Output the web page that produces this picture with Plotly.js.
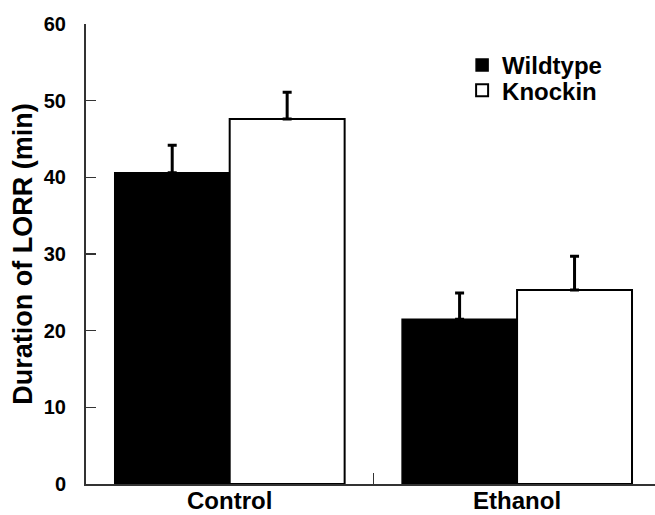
<!DOCTYPE html>
<html>
<head>
<meta charset="utf-8">
<script src="https://cdn.plot.ly/plotly-3.0.1.min.js"></script>
<style>html,body{margin:0;padding:0;background:#fff;}#chart{width:655px;height:515px;}</style>
</head>
<body>
<div id="chart"></div>
<script>
const categories = ["Control", "Ethanol"];
const wildtypeValues = [40.6, 21.5];
const wildtypeErrors = [3.6, 3.4];
const knockinValues = [47.6, 25.3];
const knockinErrors = [3.5, 4.4];
const seriesNames = ["Wildtype", "Knockin"];
const yTicks = [0, 10, 20, 30, 40, 50, 60];
const yTitle = "Duration of LORR (min)";

const FONT = "Liberation Sans, Arial, Helvetica, sans-serif";

const traces = [
  {
    type: "bar", name: seriesNames[0], x: categories, y: wildtypeValues, legend: "legend",
    marker: {color: "#000", line: {color: "#000", width: 1.5}},
    error_y: {type: "data", array: wildtypeErrors, arrayminus: [0, 0], symmetric: false,
              color: "#000", thickness: 3, width: 4.5}
  },
  {
    type: "bar", name: seriesNames[1], x: categories, y: knockinValues, legend: "legend2",
    marker: {color: "#fff", line: {color: "#000", width: 2}},
    error_y: {type: "data", array: knockinErrors, arrayminus: [0, 0], symmetric: false,
              color: "#000", thickness: 3, width: 4.5}
  }
];

const legendStyle = (y) => ({
  x: 0.661, y: y, xanchor: "left", yanchor: "top",
  font: {family: FONT, size: 24, weight: "bold", color: "#000"},
  bgcolor: "rgba(0,0,0,0)", itemclick: false, itemdoubleclick: false
});

const layout = {
  width: 655, height: 515,
  margin: {l: 86, r: 0, t: 24, b: 31, pad: 0},
  paper_bgcolor: "#fff", plot_bgcolor: "#fff",
  font: {family: FONT, color: "#000"},
  barmode: "group", bargap: 0.2, bargroupgap: 0,
  showlegend: true,
  legend: legendStyle(0.959),
  legend2: legendStyle(0.904),
  xaxis: {
    type: "category", range: [-0.5, 1.48], autorange: false,
    showline: true, linecolor: "#333", linewidth: 2,
    ticks: "inside", tickson: "boundaries", ticklen: 11, tickwidth: 1.5, tickcolor: "#333",
    ticklabelstandoff: -6,
    tickfont: {family: FONT, size: 24, weight: "bold", color: "#000"},
    showgrid: false, zeroline: false, automargin: false
  },
  yaxis: {
    range: [0, 60], autorange: false, tickvals: yTicks,
    showline: true, linecolor: "#333", linewidth: 2,
    ticks: "inside", ticklen: 10, tickwidth: 1.5, tickcolor: "#333",
    ticklabelstandoff: 14,
    tickfont: {family: FONT, size: 20, weight: "bold", color: "#000"},
    showgrid: false, zeroline: false, automargin: false,
    title: {text: yTitle, font: {family: FONT, size: 27, weight: "bold", color: "#000"}, standoff: 3}
  }
};

Plotly.newPlot("chart", traces, layout, {staticPlot: true, displayModeBar: false});
</script>
</body>
</html>
